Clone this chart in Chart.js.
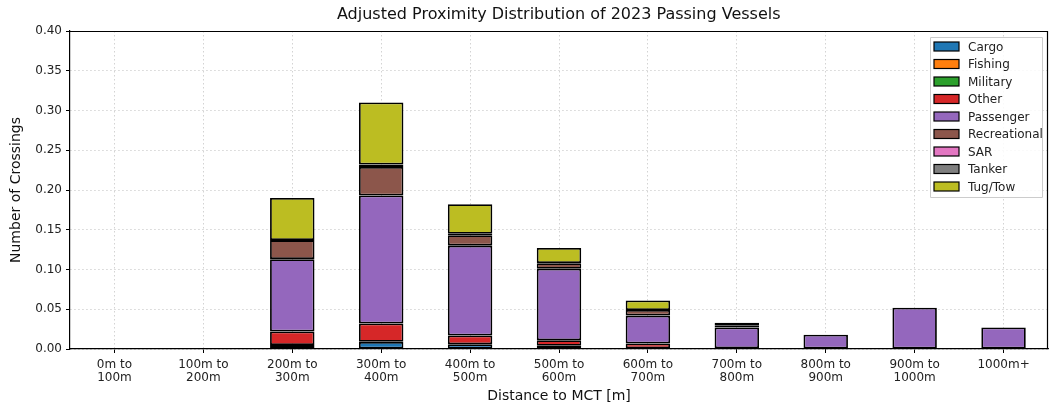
<!DOCTYPE html>
<html lang="en">
<head>
    <meta charset="UTF-8">
    <title>Adjusted Proximity Distribution of 2023 Passing Vessels</title>
    <script src="https://cdnjs.cloudflare.com/ajax/libs/Chart.js/4.4.1/chart.umd.min.js"></script>
    <style>
        body { margin: 0; padding: 0; background: #fff; overflow: hidden; }
        canvas { display: block; }
    </style>
</head>
<body>
    <canvas id="chart" width="1050" height="407"></canvas>
    <script>
        // Distance bins
        const categories = [
            ['0m to', '100m'], ['100m to', '200m'], ['200m to', '300m'], ['300m to', '400m'],
            ['400m to', '500m'], ['500m to', '600m'], ['600m to', '700m'], ['700m to', '800m'],
            ['800m to', '900m'], ['900m to', '1000m'], ['1000m+']
        ];

        // Crossings per vessel type
        const cargo        = [0, 0, 0.005, 0.009, 0.006, 0.004, 0.001, 0, 0, 0, 0];
        const fishing      = [0, 0, 0, 0, 0, 0, 0, 0, 0, 0, 0];
        const military     = [0, 0, 0, 0, 0, 0, 0, 0, 0, 0, 0];
        const other        = [0, 0, 0.017, 0.023, 0.011, 0.007, 0.006, 0.001, 0, 0, 0];
        const passenger    = [0, 0, 0.091, 0.161, 0.113, 0.090, 0.035, 0.026, 0.018, 0.052, 0.027];
        const recreational = [0, 0, 0.024, 0.036, 0.013, 0.007, 0.007, 0.003, 0, 0, 0];
        const sar          = [0, 0, 0, 0, 0, 0, 0, 0, 0, 0, 0];
        const tanker       = [0, 0, 0, 0.003, 0.002, 0, 0, 0, 0, 0, 0];
        const tugTow       = [0, 0, 0.053, 0.078, 0.037, 0.019, 0.012, 0.003, 0, 0, 0];

        const yTicks = [0, 0.05, 0.10, 0.15, 0.20, 0.25, 0.30, 0.35, 0.40];
        const chartTitle = 'Adjusted Proximity Distribution of 2023 Passing Vessels';

        const series = [
            { label: 'Cargo', data: cargo, color: '#1f77b4' },
            { label: 'Fishing', data: fishing, color: '#ff7f0e' },
            { label: 'Military', data: military, color: '#2ca02c' },
            { label: 'Other', data: other, color: '#d62728' },
            { label: 'Passenger', data: passenger, color: '#9467bd' },
            { label: 'Recreational', data: recreational, color: '#8c564b' },
            { label: 'SAR', data: sar, color: '#e377c2' },
            { label: 'Tanker', data: tanker, color: '#7f7f7f' },
            { label: 'Tug/Tow', data: tugTow, color: '#bcbd22' }
        ];

        const FONT = 'DejaVu Sans, sans-serif';

        // title over the axes, top/right spines, legend inside the plot (matplotlib style)
        const mplDecor = {
            id: 'mplDecor',
            afterDraw(chart) {
                const ctx = chart.ctx;
                const xs = chart.scales.x;
                const ys = chart.scales.y;
                const top = Math.round(ys.getPixelForValue(yTicks[yTicks.length - 1])) + 0.5;
                const bottom = ys.getPixelForValue(0);
                const left = xs.left;
                const right = Math.round(xs.right) - 0.5;
                ctx.save();

                ctx.fillStyle = '#111';
                ctx.font = '16px ' + FONT;
                ctx.textAlign = 'center';
                ctx.textBaseline = 'middle';
                ctx.fillText(chartTitle, (left + right) / 2, 15);

                ctx.strokeStyle = '#000';
                ctx.lineWidth = 1.2;
                ctx.beginPath();
                ctx.moveTo(left, top);
                ctx.lineTo(right, top);
                ctx.lineTo(right, bottom);
                ctx.stroke();

                const x = 930, y = 37, w = 112, h = 160;
                ctx.fillStyle = 'rgba(255,255,255,0.85)';
                ctx.strokeStyle = '#cccccc';
                ctx.lineWidth = 1;
                ctx.beginPath();
                ctx.rect(x + 0.5, y + 0.5, w, h);
                ctx.fill();
                ctx.stroke();

                ctx.font = '12px ' + FONT;
                ctx.textAlign = 'left';
                chart.data.datasets.forEach((ds, i) => {
                    const cy = y + 9.5 + i * 17.5;
                    ctx.fillStyle = ds.backgroundColor;
                    ctx.fillRect(934, cy - 4.5, 25, 9);
                    ctx.strokeStyle = '#000';
                    ctx.lineWidth = 1.2;
                    ctx.strokeRect(934, cy - 4.5, 25, 9);
                    ctx.fillStyle = '#222';
                    ctx.fillText(ds.label, 968, cy + 1);
                });
                ctx.restore();
            }
        };

        new Chart(document.getElementById('chart'), {
            type: 'bar',
            data: {
                labels: categories,
                datasets: series.map(s => ({
                    label: s.label,
                    data: s.data.map(v => v === 0 ? null : v),
                    backgroundColor: s.color,
                    borderColor: '#000',
                    borderWidth: 1.8,
                    borderSkipped: false,
                    categoryPercentage: 1.0,
                    barPercentage: 0.5
                }))
            },
            options: {
                responsive: false,
                animation: false,
                devicePixelRatio: 1,
                layout: { padding: { left: 8, right: 2, top: 31, bottom: 2 } },
                plugins: {
                    legend: { display: false },
                    tooltip: { enabled: false },
                    title: { display: false }
                },
                scales: {
                    x: {
                        stacked: true,
                        afterFit(scale) { scale.height = 56; },
                        grid: {
                            offset: false,
                            color: '#c8c8c8',
                            lineWidth: 0.8,
                            tickColor: '#000',
                            tickLength: 4,
                            tickWidth: 1
                        },
                        border: { color: '#000', width: 1.2, dash: [1.5, 2.5] },
                        ticks: {
                            color: '#222',
                            font: { family: FONT, size: 12, lineHeight: 1.1 },
                            maxRotation: 0,
                            autoSkip: false,
                            padding: 5
                        },
                        title: {
                            display: true,
                            text: 'Distance to MCT [m]',
                            color: '#111',
                            font: { family: FONT, size: 14 },
                            padding: { top: 2, bottom: 0 }
                        }
                    },
                    y: {
                        stacked: true,
                        min: 0,
                        max: 0.4,
                        afterFit(scale) { scale.width = 62; },
                        afterBuildTicks(scale) { scale.ticks = yTicks.map(v => ({ value: v })); },
                        grid: {
                            color: '#c8c8c8',
                            lineWidth: 0.8,
                            tickColor: '#000',
                            tickLength: 4,
                            tickWidth: 1
                        },
                        border: { color: '#000', width: 1.2, dash: [1.5, 2.5] },
                        ticks: {
                            color: '#222',
                            font: { family: FONT, size: 12 },
                            padding: 4,
                            callback: v => v.toFixed(2)
                        },
                        title: {
                            display: true,
                            text: 'Number of Crossings',
                            color: '#111',
                            font: { family: FONT, size: 14 },
                            padding: { top: 0, bottom: 6 }
                        }
                    }
                }
            },
            plugins: [mplDecor]
        });
    </script>
</body>
</html>
